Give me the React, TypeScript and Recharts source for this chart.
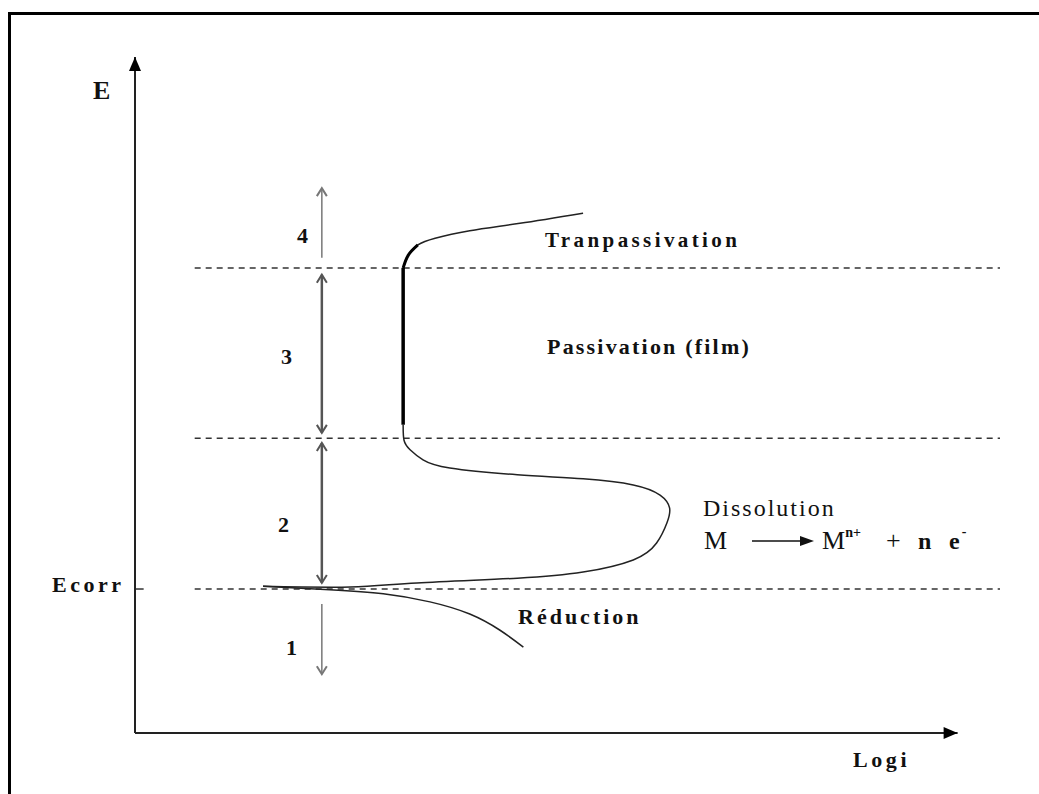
import React from 'react';
import { LineChart, Line, XAxis, YAxis, ReferenceLine } from 'recharts';

// abstract units: log i on x (0..10), potential E on y (0..10)
const anodicLogI = [1.48, 2.49, 3.26, 4.42, 5.18, 5.76, 6.03, 6.15, 6.18, 6.07, 5.76, 5.18, 4.42, 3.64, 3.33, 3.18, 3.11, 3.1];
const anodicE = [2.17, 2.16, 2.22, 2.29, 2.38, 2.56, 2.81, 3.11, 3.33, 3.52, 3.67, 3.76, 3.82, 3.92, 4.04, 4.19, 4.33, 4.56];

const passiveLogI = [3.1, 3.1];
const passiveE = [4.56, 6.88];

const transLogI = [3.1, 3.16, 3.27, 3.47, 3.87, 4.45, 5.18];
const transE = [6.88, 7.07, 7.22, 7.32, 7.43, 7.54, 7.69];

const cathodicLogI = [1.48, 2.25, 2.87, 3.41, 3.87, 4.22, 4.49];
const cathodicE = [2.17, 2.12, 2.06, 1.94, 1.76, 1.52, 1.27];

// domain limits (dashed lines)
const ecorr = 2.13;
const passStart = 4.36;
const transStart = 6.88;

// zone arrows: [bottom, top]
const zoneX = 2.16;
const zone1 = [0.87, 1.91];
const zone2 = [2.22, 4.29];
const zone3 = [4.44, 6.78];
const zone4 = [7.03, 8.06];

const zip = (xs: number[], ys: number[]) => xs.map((x, i) => ({ x, y: ys[i] }));

const W = 1039;
const H = 794;
const FONT = '"Liberation Serif", "DejaVu Serif", serif';

const Head = (props: any) => {
  const { cx, cy, payload, index, stroke } = props;
  const key = `h-${index}-${cx}-${cy}`;
  if (cx == null || cy == null || !payload || !payload.head) return <g key={key} />;
  const h = payload.head;
  if (h === 'up') {
    return <polyline key={key} points={`${cx - 5},${cy + 8} ${cx},${cy} ${cx + 5},${cy + 8}`} fill="none" stroke={stroke} strokeWidth={2} />;
  }
  if (h === 'down') {
    return <polyline key={key} points={`${cx - 5},${cy - 8} ${cx},${cy} ${cx + 5},${cy - 8}`} fill="none" stroke={stroke} strokeWidth={2} />;
  }
  if (h === 'upFill') {
    return <polygon key={key} points={`${cx - 6},${cy + 14} ${cx},${cy} ${cx + 6},${cy + 14}`} fill="#000" />;
  }
  if (h === 'rightFill') {
    return <polygon key={key} points={`${cx - 14},${cy - 6} ${cx},${cy} ${cx - 14},${cy + 6}`} fill="#000" />;
  }
  return <g key={key} />;
};

const txt = (left: number, top: number, size: number, bold: boolean, spacing: number): React.CSSProperties => ({
  position: 'absolute',
  left,
  top,
  transform: 'translateY(-50%)',
  fontFamily: FONT,
  fontSize: size,
  fontWeight: bold ? 700 : 400,
  letterSpacing: spacing,
  lineHeight: 1,
  color: '#111',
  whiteSpace: 'nowrap',
});

export default function App() {
  const zoneLine = (z: number[], bottomHead: string | null, topHead: string | null) => [
    { x: zoneX, y: z[0], head: bottomHead },
    { x: zoneX, y: z[1], head: topHead },
  ];

  return (
    <div style={{ position: 'absolute', left: 0, top: 0, width: W, height: H, background: '#fff', overflow: 'hidden' }}>
      <div
        style={{
          position: 'absolute',
          left: 8,
          top: 12,
          width: W,
          height: H,
          borderTop: '3px solid #000',
          borderLeft: '3px solid #000',
        }}
      />
      <div style={{ position: 'absolute', left: 0, top: 0 }}>
        <LineChart width={W} height={H} margin={{ top: 57, right: 39, bottom: 61, left: 135 }}>
          <XAxis type="number" dataKey="x" domain={[0, 10]} hide />
          <YAxis type="number" dataKey="y" domain={[0, 10]} hide />

          {[ecorr, passStart, transStart].map((y) => (
            <ReferenceLine
              key={y}
              segment={[{ x: 0.69, y }, { x: 10, y }]}
              stroke="#333"
              strokeWidth={1.5}
              strokeDasharray="6 5"
            />
          ))}
          <ReferenceLine segment={[{ x: 0, y: ecorr }, { x: 0.1, y: ecorr }]} stroke="#333" strokeWidth={1.5} />

          {/* axes */}
          <Line data={[{ x: 0, y: 0 }, { x: 0, y: 10, head: 'upFill' }]} dataKey="y" type="linear" stroke="#222" strokeWidth={2} dot={Head} activeDot={false} isAnimationActive={false} />
          <Line data={[{ x: 0, y: 0 }, { x: 9.51, y: 0, head: 'rightFill' }]} dataKey="y" type="linear" stroke="#222" strokeWidth={2} dot={Head} activeDot={false} isAnimationActive={false} />

          {/* zone arrows */}
          <Line data={zoneLine(zone4, null, 'up')} dataKey="y" type="linear" stroke="#777" strokeWidth={1.5} dot={Head} activeDot={false} isAnimationActive={false} />
          <Line data={zoneLine(zone3, 'down', 'up')} dataKey="y" type="linear" stroke="#555" strokeWidth={2.5} dot={Head} activeDot={false} isAnimationActive={false} />
          <Line data={zoneLine(zone2, 'down', 'up')} dataKey="y" type="linear" stroke="#555" strokeWidth={2.5} dot={Head} activeDot={false} isAnimationActive={false} />
          <Line data={zoneLine(zone1, 'down', null)} dataKey="y" type="linear" stroke="#777" strokeWidth={1.5} dot={Head} activeDot={false} isAnimationActive={false} />

          {/* polarization curve */}
          <Line data={zip(cathodicLogI, cathodicE)} dataKey="y" type="natural" stroke="#222" strokeWidth={1.5} dot={false} activeDot={false} isAnimationActive={false} />
          <Line data={zip(anodicLogI, anodicE)} dataKey="y" type="natural" stroke="#222" strokeWidth={1.5} dot={false} activeDot={false} isAnimationActive={false} />
          <Line data={zip(passiveLogI, passiveE)} dataKey="y" type="linear" stroke="#000" strokeWidth={3.5} dot={false} activeDot={false} isAnimationActive={false} />
          <Line data={zip(transLogI, transE)} dataKey="y" type="natural" stroke="#222" strokeWidth={1.5} dot={false} activeDot={false} isAnimationActive={false} />
          <Line data={zip(transLogI.slice(0, 3), transE.slice(0, 3))} dataKey="y" type="natural" stroke="#000" strokeWidth={3} dot={false} activeDot={false} isAnimationActive={false} />
        </LineChart>
      </div>

      <div style={txt(93, 91, 26, true, 0)}>E</div>
      <div style={txt(297, 236, 22, true, 0)}>4</div>
      <div style={txt(281, 357, 22, true, 0)}>3</div>
      <div style={txt(278, 525, 22, true, 0)}>2</div>
      <div style={txt(286, 648, 22, true, 0)}>1</div>
      <div style={txt(52, 585, 22, true, 3.5)}>Ecorr</div>
      <div style={txt(545, 240, 21, true, 3.4)}>Tranpassivation</div>
      <div style={txt(547, 347, 22, true, 2.2)}>Passivation (film)</div>
      <div style={txt(703, 508, 24, false, 2)}>Dissolution</div>
      <div style={txt(704, 541, 26, false, 0)}>M</div>
      <svg style={{ position: 'absolute', left: 750, top: 534 }} width={66} height={14}>
        <line x1={2} y1={7} x2={52} y2={7} stroke="#111" strokeWidth={1.5} />
        <polygon points="50,2 64,7 50,12" fill="#111" />
      </svg>
      <div style={txt(822, 541, 26, false, 0)}>
        M<sup style={{ fontSize: 14, fontWeight: 700, verticalAlign: 'top', position: 'relative', top: -2 }}>n+</sup>
      </div>
      <div style={txt(886, 541, 26, false, 0)}>+</div>
      <div style={txt(918, 541, 24, true, 0)}>n</div>
      <div style={txt(949, 541, 24, true, 0)}>
        e<sup style={{ fontSize: 14, verticalAlign: 'top', position: 'relative', top: -4, marginLeft: 2 }}>-</sup>
      </div>
      <div style={txt(518, 617, 22, true, 3)}>Réduction</div>
      <div style={txt(853, 760, 22, true, 3.6)}>Logi</div>
    </div>
  );
}
